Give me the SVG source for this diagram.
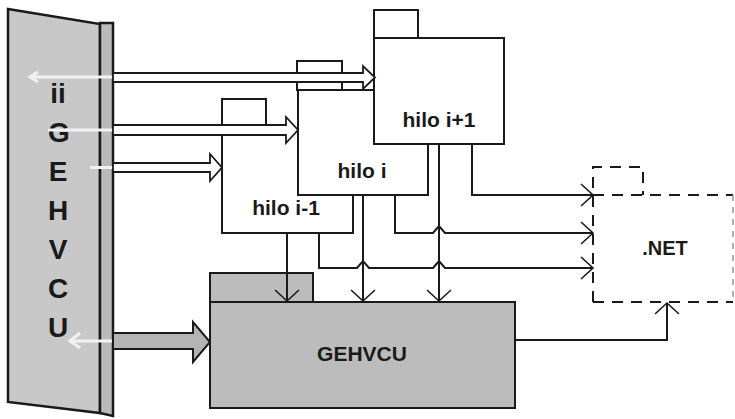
<svg xmlns="http://www.w3.org/2000/svg" width="735" height="419" viewBox="0 0 735 419">
<defs>
<style>
.box{fill:#fff;stroke:#1a1a1a;stroke-width:2}
.gray{fill:#bcbcbc;stroke:#1a1a1a;stroke-width:2}
.ln{fill:none;stroke:#1a1a1a;stroke-width:2}
.hd{fill:none;stroke:#1a1a1a;stroke-width:1.6}
.dash{fill:none;stroke:#1a1a1a;stroke-width:2;stroke-dasharray:11 8}
.hollow{fill:#fff;stroke:#1a1a1a;stroke-width:1.8;stroke-linejoin:miter}
.wl{fill:none;stroke:#f2f2f2;stroke-width:3}
.t{font-family:"Liberation Sans",Arial,sans-serif;font-weight:bold;fill:#1a1a1a}
.lt{font-size:21px;text-anchor:middle}
.pt{font-size:28px;text-anchor:middle}
</style>
</defs>

<g id="panel">
<polygon points="8,9 100,24 100,413 8,402" fill="#c8c8c8" stroke="#1a1a1a" stroke-width="2.5"/>
<polygon points="100,23 113,23 113,416 100,413" fill="#bababa" stroke="#1a1a1a" stroke-width="2.5"/>
<text class="t pt" x="58" y="103">ii</text>
<text class="t pt" x="59" y="142">G</text>
<text class="t pt" x="58" y="181">E</text>
<text class="t pt" x="58" y="220">H</text>
<text class="t pt" x="58" y="259">V</text>
<text class="t pt" x="58" y="298">C</text>
<text class="t pt" x="58" y="337">U</text>
</g>

<g id="hilo-im1">
<rect class="box" x="222" y="99" width="44" height="32"/>
<rect class="box" x="222" y="131" width="131" height="102"/>
</g>

<g id="hilo-i">
<rect class="box" x="297" y="61" width="45" height="29"/>
<rect class="box" x="298" y="90" width="130" height="105"/>
</g>

<g id="hilo-ip1">
<rect class="box" x="374" y="10" width="44" height="28"/>
<rect class="box" x="374" y="38" width="130" height="106"/>
<text class="t lt" x="439" y="127">hilo i+1</text>
</g>

<g id="gehvcu">
<rect class="gray" x="210" y="273" width="103" height="29"/>
<rect class="gray" x="210" y="302" width="305" height="106"/>
<text class="t" x="362" y="361" font-size="21" text-anchor="middle">GEHVCU</text>
</g>

<g id="net">
<path class="dash" d="M593,302 V167 H643 V195"/>
<path class="dash" d="M593,195 H733"/>
<path d="M733,195 V302" fill="none" stroke="#9a9a9a" stroke-width="1.5" stroke-dasharray="6 6"/>
<path class="dash" d="M593,302 H733"/>
<text class="t" x="665" y="255" font-size="20" text-anchor="middle">.NET</text>
</g>

<g id="labels">
<text class="t lt" x="362" y="178">hilo i</text>
<text class="t lt" x="286" y="215">hilo i-1</text>
</g>

<g id="connectors">
<path class="wl" d="M32,77 H113 M38,72 L30,77 L38,82"/>
<path class="wl" d="M48,130 H113"/>
<path class="wl" d="M90,167.5 H113"/>
<path class="wl" d="M72,341 H113 M80,333 L70,341 L80,348"/>
<polygon class="hollow" points="113,73 363,73 363,66 375,77.5 363,89 363,82 113,82"/>
<polygon class="hollow" points="113,125 286,125 286,117 298,130 286,143 286,135 113,135"/>
<polygon class="hollow" points="113,163 210,163 210,154 222,167.5 210,181 210,172 113,172"/>
<polygon points="113,333 193,333 193,322 210,342 193,362 193,349 113,349" fill="#b4b4b4" stroke="#1a1a1a" stroke-width="2"/>
<path class="ln" d="M287,233 V301"/>
<path class="hd" d="M275,290 L287,301 L299,290"/>
<path class="ln" d="M363,195 V301"/>
<path class="hd" d="M351,290 L363,301 L375,290"/>
<path class="ln" d="M439,144 V301"/>
<path class="hd" d="M427,290 L439,301 L451,290"/>
<path class="ln" d="M472,144 V195 H593"/>
<path class="hd" d="M581,184 L593,195 L581,206"/>
<path class="ln" d="M395,195 V233 H433 L439,226 L445,233 H593"/>
<path class="hd" d="M581,222 L593,233 L581,244"/>
<path class="ln" d="M319,233 V268 H357 L363,261 L369,268 H433 L439,261 L445,268 H593"/>
<path class="hd" d="M581,257 L593,268 L581,279"/>
<path class="ln" d="M515,340 H667 V303"/>
<path class="hd" d="M655,314 L667,303 L679,314"/>
</g>
</svg>
